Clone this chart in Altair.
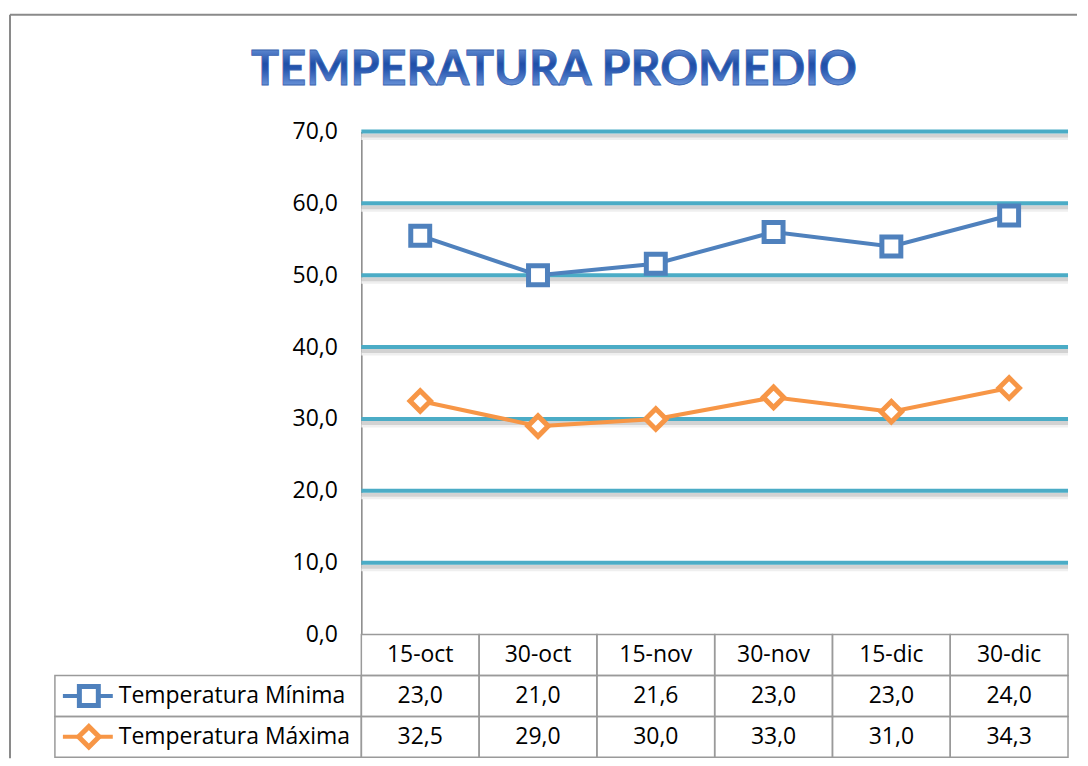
import altair as alt
import pandas as pd

# ---- data ----
dates = ["15-oct", "30-oct", "15-nov", "30-nov", "15-dic", "30-dic"]
t_min = [23.0, 21.0, 21.6, 23.0, 23.0, 24.0]
t_max = [32.5, 29.0, 30.0, 33.0, 31.0, 34.3]
series_names = ["Temperatura Mínima", "Temperatura Máxima"]
y_ticks = [0, 10, 20, 30, 40, 50, 60, 70]
grid_vals = [10, 20, 30, 40, 50, 60, 70]
title_text = ["TEMPERATURA PROMEDIO"]

BLUE = "#4F81BD"
ORANGE = "#F79646"
TEAL = "#4BACC6"
BORDER = "#9A9A9A"
FONT = "Open Sans"
TFONT = "Lato"

def fmt(v):
    return f"{v:.1f}".replace(".", ",")

# long table for the stacked lines (Máxima at bottom, Mínima stacked on it)
rows = []
for i, d in enumerate(dates):
    rows.append({"date": d, "series": series_names[1], "ord": 0, "value": t_max[i]})
    rows.append({"date": d, "series": series_names[0], "ord": 1, "value": t_min[i]})
line_df = pd.DataFrame(rows)

grid_df = pd.DataFrame({"g": grid_vals})

color_scale = alt.Scale(domain=series_names, range=[BLUE, ORANGE])
shape_scale = alt.Scale(domain=series_names, range=["square", "diamond"])

W2 = 708
W1 = 307
H1 = 504
H2 = 123

x_scale = alt.Scale(domain=dates, type="point", padding=0.5)
y_scale = alt.Scale(domain=[0, 70], nice=False)
y_axis = alt.Axis(values=y_ticks, grid=False, ticks=False, tickSize=0,
                  domain=True, domainColor="#868686", domainWidth=1.5,
                  labelPadding=24, labelFontSize=23, labelFont=FONT,
                  labelColor="#000000", title=None,
                  labelExpr="replace(format(datum.value, '.1f'), '.', ',')")

base = alt.Chart(line_df).transform_stack(
    stack="value", groupby=["date"], as_=["y0", "y1"],
    sort=[alt.SortField("ord", order="ascending")]
)

shadow2 = alt.Chart(grid_df).mark_rule(color="#EFEFEF", strokeWidth=3, yOffset=7).encode(
    y=alt.Y("g:Q", scale=y_scale, axis=y_axis)
)
shadow1 = alt.Chart(grid_df).mark_rule(color="#D2D2D2", strokeWidth=4, yOffset=4).encode(
    y=alt.Y("g:Q", scale=y_scale, axis=y_axis)
)
grid = alt.Chart(grid_df).mark_rule(color=TEAL, strokeWidth=4).encode(
    y=alt.Y("g:Q", scale=y_scale, axis=y_axis)
)

lines = base.mark_line(strokeWidth=4).encode(
    x=alt.X("date:N", scale=x_scale, sort=dates, axis=None),
    y=alt.Y("y1:Q", scale=y_scale, axis=y_axis),
    color=alt.Color("series:N", scale=color_scale, legend=None),
    detail="series:N",
)

points = base.mark_point(filled=True, fill="white", strokeWidth=5, opacity=1).encode(
    x=alt.X("date:N", scale=x_scale, sort=dates, axis=None),
    y=alt.Y("y1:Q", scale=y_scale, axis=y_axis),
    stroke=alt.Stroke("series:N", scale=color_scale, legend=None),
    shape=alt.Shape("series:N", scale=shape_scale, legend=None),
    size=alt.Size("series:N", scale=alt.Scale(domain=series_names, range=[360, 420]), legend=None),
)

plot = alt.layer(shadow2, shadow1, grid, lines, points).properties(width=W2, height=H1)

# ---- left-top cell: holds the outer chart-area border and the title ----
one = pd.DataFrame({"k": [0]})
border_left = alt.Chart(one).mark_rule(color="#8A8A8A", strokeWidth=2).encode(
    x=alt.value(-45), y=alt.value(-117), y2=alt.value(628)
)
border_top = alt.Chart(one).mark_rule(color="#8A8A8A", strokeWidth=2).encode(
    x=alt.value(-45), x2=alt.value(1024), y=alt.value(-117)
)
title_grad = alt.Gradient(
    gradient="linear", x1=0, y1=0, x2=0, y2=1,
    stops=[alt.GradientStop(offset=0, color="#8DB3EE"),
           alt.GradientStop(offset=0.45, color="#1F4FA8"),
           alt.GradientStop(offset=0.55, color="#2757B0"),
           alt.GradientStop(offset=1, color="#8DB3EE")],
)
title_mark = alt.Chart(pd.DataFrame({"t": title_text})).mark_text(
    font=TFONT, fontSize=47, fontWeight="bold", align="center", baseline="alphabetic",
    color=title_grad, stroke="#3A64B0", strokeWidth=0.8,
).encode(x=alt.value(500), y=alt.value(-47), text="t:N")
empty = alt.layer(border_left, border_top, title_mark).properties(width=W1, height=H1)

# ---- data table ----
row_keys = ["header", "min", "max"]
cell_rows = []
for i, d in enumerate(dates):
    cell_rows.append({"date": d, "row": "header", "txt": d})
    cell_rows.append({"date": d, "row": "min", "txt": fmt(t_min[i])})
    cell_rows.append({"date": d, "row": "max", "txt": fmt(t_max[i])})
cell_df = pd.DataFrame(cell_rows)

tx_scale = alt.Scale(domain=dates, paddingInner=0, paddingOuter=0)
ty_scale = alt.Scale(domain=row_keys, paddingInner=0, paddingOuter=0)

cells_rect = alt.Chart(cell_df).mark_rect(fill="white", fillOpacity=0, stroke=BORDER, strokeWidth=1.5).encode(
    x=alt.X("date:N", scale=tx_scale, sort=dates, axis=None),
    y=alt.Y("row:N", scale=ty_scale, sort=row_keys, axis=None),
)
cells_text = alt.Chart(cell_df).mark_text(fontSize=23, font=FONT, color="#000000", baseline="middle").encode(
    x=alt.X("date:N", scale=tx_scale, sort=dates, axis=None),
    y=alt.Y("row:N", scale=ty_scale, sort=row_keys, axis=None),
    text="txt:N",
)
cells = alt.layer(cells_rect, cells_text).properties(width=W2, height=H2)

lab_df = pd.DataFrame({"row": ["min", "max"], "series": series_names})

lab_rect = alt.Chart(lab_df).mark_rect(fill="white", fillOpacity=0, stroke=BORDER, strokeWidth=1.5).encode(
    x=alt.value(0), x2=alt.value(W1),
    y=alt.Y("row:N", scale=ty_scale, sort=row_keys, axis=None),
)
lab_line = alt.Chart(lab_df).mark_rule(strokeWidth=4).encode(
    x=alt.value(8), x2=alt.value(58),
    y=alt.Y("row:N", scale=ty_scale, sort=row_keys, axis=None),
    color=alt.Color("series:N", scale=color_scale, legend=None),
)
lab_point = alt.Chart(lab_df).mark_point(filled=True, fill="white", strokeWidth=5, opacity=1).encode(
    x=alt.value(34),
    y=alt.Y("row:N", scale=ty_scale, sort=row_keys, axis=None),
    stroke=alt.Stroke("series:N", scale=color_scale, legend=None),
    shape=alt.Shape("series:N", scale=shape_scale, legend=None),
    size=alt.Size("series:N", scale=alt.Scale(domain=series_names, range=[260, 280]), legend=None),
)
lab_text = alt.Chart(lab_df).mark_text(fontSize=23, font=FONT, color="#000000", align="left", baseline="middle").encode(
    x=alt.value(64),
    y=alt.Y("row:N", scale=ty_scale, sort=row_keys, axis=None),
    text="series:N",
)
labels = alt.layer(lab_rect, lab_line, lab_point, lab_text).properties(width=W1, height=H2)

chart = alt.concat(empty, plot, labels, cells, columns=2, spacing=0).properties(
    bounds="flush",
    padding={"left": 1, "top": 5, "right": 2, "bottom": 0},
).configure_view(stroke=None).configure_concat(spacing=0)

chart.save("out.html", embed_options={"renderer": "svg", "actions": False})
